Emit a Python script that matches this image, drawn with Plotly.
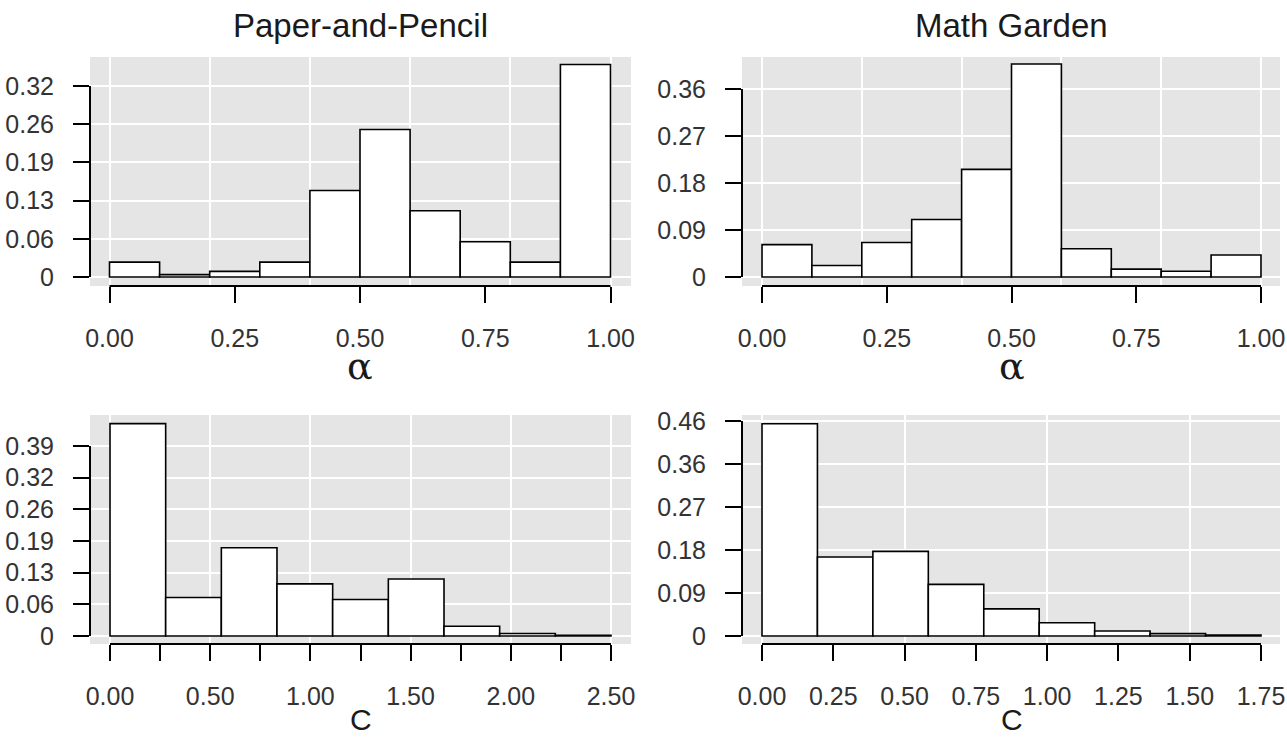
import plotly.graph_objects as go

# ---------------- data ----------------
alpha_edges = [0.0, 0.1, 0.2, 0.3, 0.4, 0.5, 0.6, 0.7, 0.8, 0.9, 1.0]
pp_alpha = [0.025, 0.004, 0.0095, 0.025, 0.145, 0.247, 0.111, 0.059, 0.025, 0.356]
mg_alpha = [0.062, 0.022, 0.066, 0.110, 0.206, 0.408, 0.054, 0.015, 0.011, 0.042]

pp_c_edges = [0.0, 0.2778, 0.5556, 0.8333, 1.1111, 1.3889, 1.6667, 1.9444, 2.2222, 2.5]
pp_c = [0.436, 0.079, 0.181, 0.107, 0.075, 0.117, 0.020, 0.005, 0.0015]

mg_c_edges = [0.0, 0.1944, 0.3889, 0.5833, 0.7778, 0.9722, 1.1667, 1.3611, 1.5556, 1.75]
mg_c = [0.454, 0.169, 0.181, 0.1105, 0.058, 0.0285, 0.0107, 0.005, 0.002]

# tick values / labels
tl_yticks = [0, 0.064, 0.128, 0.192, 0.256, 0.32]
tl_ylabels = ["0", "0.06", "0.13", "0.19", "0.26", "0.32"]
tr_yticks = [0, 0.09, 0.18, 0.27, 0.36]
tr_ylabels = ["0", "0.09", "0.18", "0.27", "0.36"]
bl_yticks = [0, 0.065, 0.13, 0.195, 0.26, 0.325, 0.39]
bl_ylabels = ["0", "0.06", "0.13", "0.19", "0.26", "0.32", "0.39"]
br_yticks = [0, 0.092, 0.184, 0.276, 0.368, 0.46]
br_ylabels = ["0", "0.09", "0.18", "0.27", "0.36", "0.46"]

alpha_xticks = [0, 0.25, 0.5, 0.75, 1.0]
alpha_xlabels = ["0.00", "0.25", "0.50", "0.75", "1.00"]
alpha_xgrid = [0, 0.2, 0.4, 0.6, 0.8, 1.0]

pp_c_xticks = [0, 0.25, 0.5, 0.75, 1.0, 1.25, 1.5, 1.75, 2.0, 2.25, 2.5]
pp_c_xlabels = ["0.00", "", "0.50", "", "1.00", "", "1.50", "", "2.00", "", "2.50"]
pp_c_xgrid = [0, 0.5, 1.0, 1.5, 2.0, 2.5]

mg_c_xticks = [0, 0.25, 0.5, 0.75, 1.0, 1.25, 1.5, 1.75]
mg_c_xlabels = ["0.00", "0.25", "0.50", "0.75", "1.00", "1.25", "1.50", "1.75"]
mg_c_xgrid = [0, 0.5, 1.0, 1.5]

titles = ["Paper-and-Pencil", "Math Garden"]
xlab_alpha = "α"
xlab_c = "C"

# ---------------- layout geometry (screen pixels) ----------------
W, H = 1287, 738
def fx(p):
    return p / W
def fy(p):
    return 1 - p / H

panels = [
    dict(edges=alpha_edges, vals=pp_alpha, yt=tl_yticks, yl=tl_ylabels,
         xt=alpha_xticks, xl=alpha_xlabels, xg=alpha_xgrid,
         gx=(90, 631), gy=(57, 286), xcal=((0, 109.5), (1.0, 610.5)), ycal=((0, 277), (0.32, 86))),
    dict(edges=alpha_edges, vals=mg_alpha, yt=tr_yticks, yl=tr_ylabels,
         xt=alpha_xticks, xl=alpha_xlabels, xg=alpha_xgrid,
         gx=(742, 1280), gy=(57, 286), xcal=((0, 762), (1.0, 1261)), ycal=((0, 277), (0.36, 89))),
    dict(edges=pp_c_edges, vals=pp_c, yt=bl_yticks, yl=bl_ylabels,
         xt=pp_c_xticks, xl=pp_c_xlabels, xg=pp_c_xgrid,
         gx=(90, 631), gy=(415, 644), xcal=((0, 110), (2.5, 611)), ycal=((0, 636), (0.39, 446))),
    dict(edges=mg_c_edges, vals=mg_c, yt=br_yticks, yl=br_ylabels,
         xt=mg_c_xticks, xl=mg_c_xlabels, xg=mg_c_xgrid,
         gx=(742, 1280), gy=(415, 644), xcal=((0, 762), (1.75, 1261)), ycal=((0, 636), (0.46, 421))),
]

TICKFONT = dict(family="Liberation Sans, Arial, sans-serif", size=25, color="#333333")
BG = "#e5e5e5"

fig = go.Figure()
layout = dict(
    template="none",
    width=W, height=H, margin=dict(l=0, r=0, t=0, b=0, autoexpand=False),
    paper_bgcolor="white", plot_bgcolor=BG, showlegend=False,
    shapes=[], annotations=[],
)

for i, p in enumerate(panels):
    n = i + 1
    sfx = "" if n == 1 else str(n)
    ov = str(n + 4)
    (v0, px0), (v1, px1) = p["xcal"]
    sx = (px1 - px0) / (v1 - v0)
    xr = [v0 + (p["gx"][0] - px0) / sx, v0 + (p["gx"][1] - px0) / sx]
    (w0, py0), (w1, py1) = p["ycal"]
    sy = (py0 - py1) / (w1 - w0)
    yr = [w0 - (p["gy"][1] - py0) / sy, w0 + (py0 - p["gy"][0]) / sy]

    edges = p["edges"]
    centers = [(edges[k] + edges[k + 1]) / 2 for k in range(len(edges) - 1)]
    widths = [edges[k + 1] - edges[k] for k in range(len(edges) - 1)]
    fig.add_trace(go.Bar(
        x=centers, y=p["vals"], width=widths,
        marker=dict(color="white", line=dict(color="black", width=1.6)),
        xaxis="x" + sfx, yaxis="y" + sfx, hoverinfo="x+y",
    ))
    fig.add_trace(go.Scatter(x=[], y=[], xaxis="x" + ov, yaxis="y" + sfx,
                             showlegend=False, hoverinfo="skip"))

    layout["xaxis" + sfx] = dict(
        domain=[fx(p["gx"][0]), min(1, fx(p["gx"][1]))], range=xr, anchor="y" + sfx,
        tickmode="array", tickvals=p["xg"], showticklabels=False, ticks="",
        showgrid=True, gridcolor="white", gridwidth=1.6, zeroline=False, showline=False,
        automargin=False,
    )
    layout["xaxis" + ov] = dict(
        overlaying="x" + sfx, anchor="y" + sfx, range=xr, side="bottom",
        tickmode="array", tickvals=p["xt"], ticktext=p["xl"],
        ticks="outside", ticklen=16, tickwidth=2, tickcolor="black",
        tickfont=TICKFONT, ticklabelstandoff=14, ticklabeloverflow="allow",
        showgrid=False, zeroline=False, showline=False, automargin=False,
    )
    layout["yaxis" + sfx] = dict(
        domain=[fy(p["gy"][1]), fy(p["gy"][0])], range=yr, anchor="x" + sfx,
        tickmode="array", tickvals=p["yt"], ticktext=p["yl"],
        ticks="outside", ticklen=16, tickwidth=2, tickcolor="black",
        tickfont=TICKFONT, ticklabelstandoff=14, ticklabeloverflow="allow",
        showgrid=True, gridcolor="white", gridwidth=1.6, zeroline=False, showline=False,
        automargin=False,
    )
    # axis lines spanning first to last tick
    layout["shapes"].append(dict(
        type="line", xref="x" + sfx + " domain", yref="y" + sfx,
        x0=0, x1=0, y0=p["yt"][0], y1=p["yt"][-1],
        line=dict(color="black", width=2),
    ))
    layout["shapes"].append(dict(
        type="line", xref="x" + sfx, yref="y" + sfx + " domain",
        x0=p["xt"][0], x1=p["xt"][-1], y0=0, y1=0,
        line=dict(color="black", width=2),
    ))

    # axis title
    xmid = (px0 + (p["xt"][-1] - v0) * sx + px0) / 2
    if n <= 2:
        layout["annotations"].append(dict(
            text=xlab_alpha, xref="paper", yref="paper", x=fx(xmid), y=fy(366),
            showarrow=False, xanchor="center", yanchor="middle",
            font=dict(family="DejaVu Serif, serif", size=38, color="#1a1a1a"),
        ))
        layout["annotations"].append(dict(
            text=titles[n - 1], xref="paper", yref="paper",
            x=fx((p["gx"][0] + p["gx"][1]) / 2), y=fy(25),
            showarrow=False, xanchor="center", yanchor="middle",
            font=dict(family="Liberation Sans, Arial, sans-serif", size=33, color="#1a1a1a"),
        ))
    else:
        layout["annotations"].append(dict(
            text=xlab_c, xref="paper", yref="paper", x=fx(xmid), y=fy(738),
            showarrow=False, xanchor="center", yanchor="bottom",
            font=dict(family="Liberation Sans, Arial, sans-serif", size=30, color="#1a1a1a"),
        ))

fig.update_layout(**layout)
# remove the default 8px page margin so the figure fills the window exactly
fig.write_html("out.html", config={"displayModeBar": False},
               post_script="document.body.style.margin='0';")
